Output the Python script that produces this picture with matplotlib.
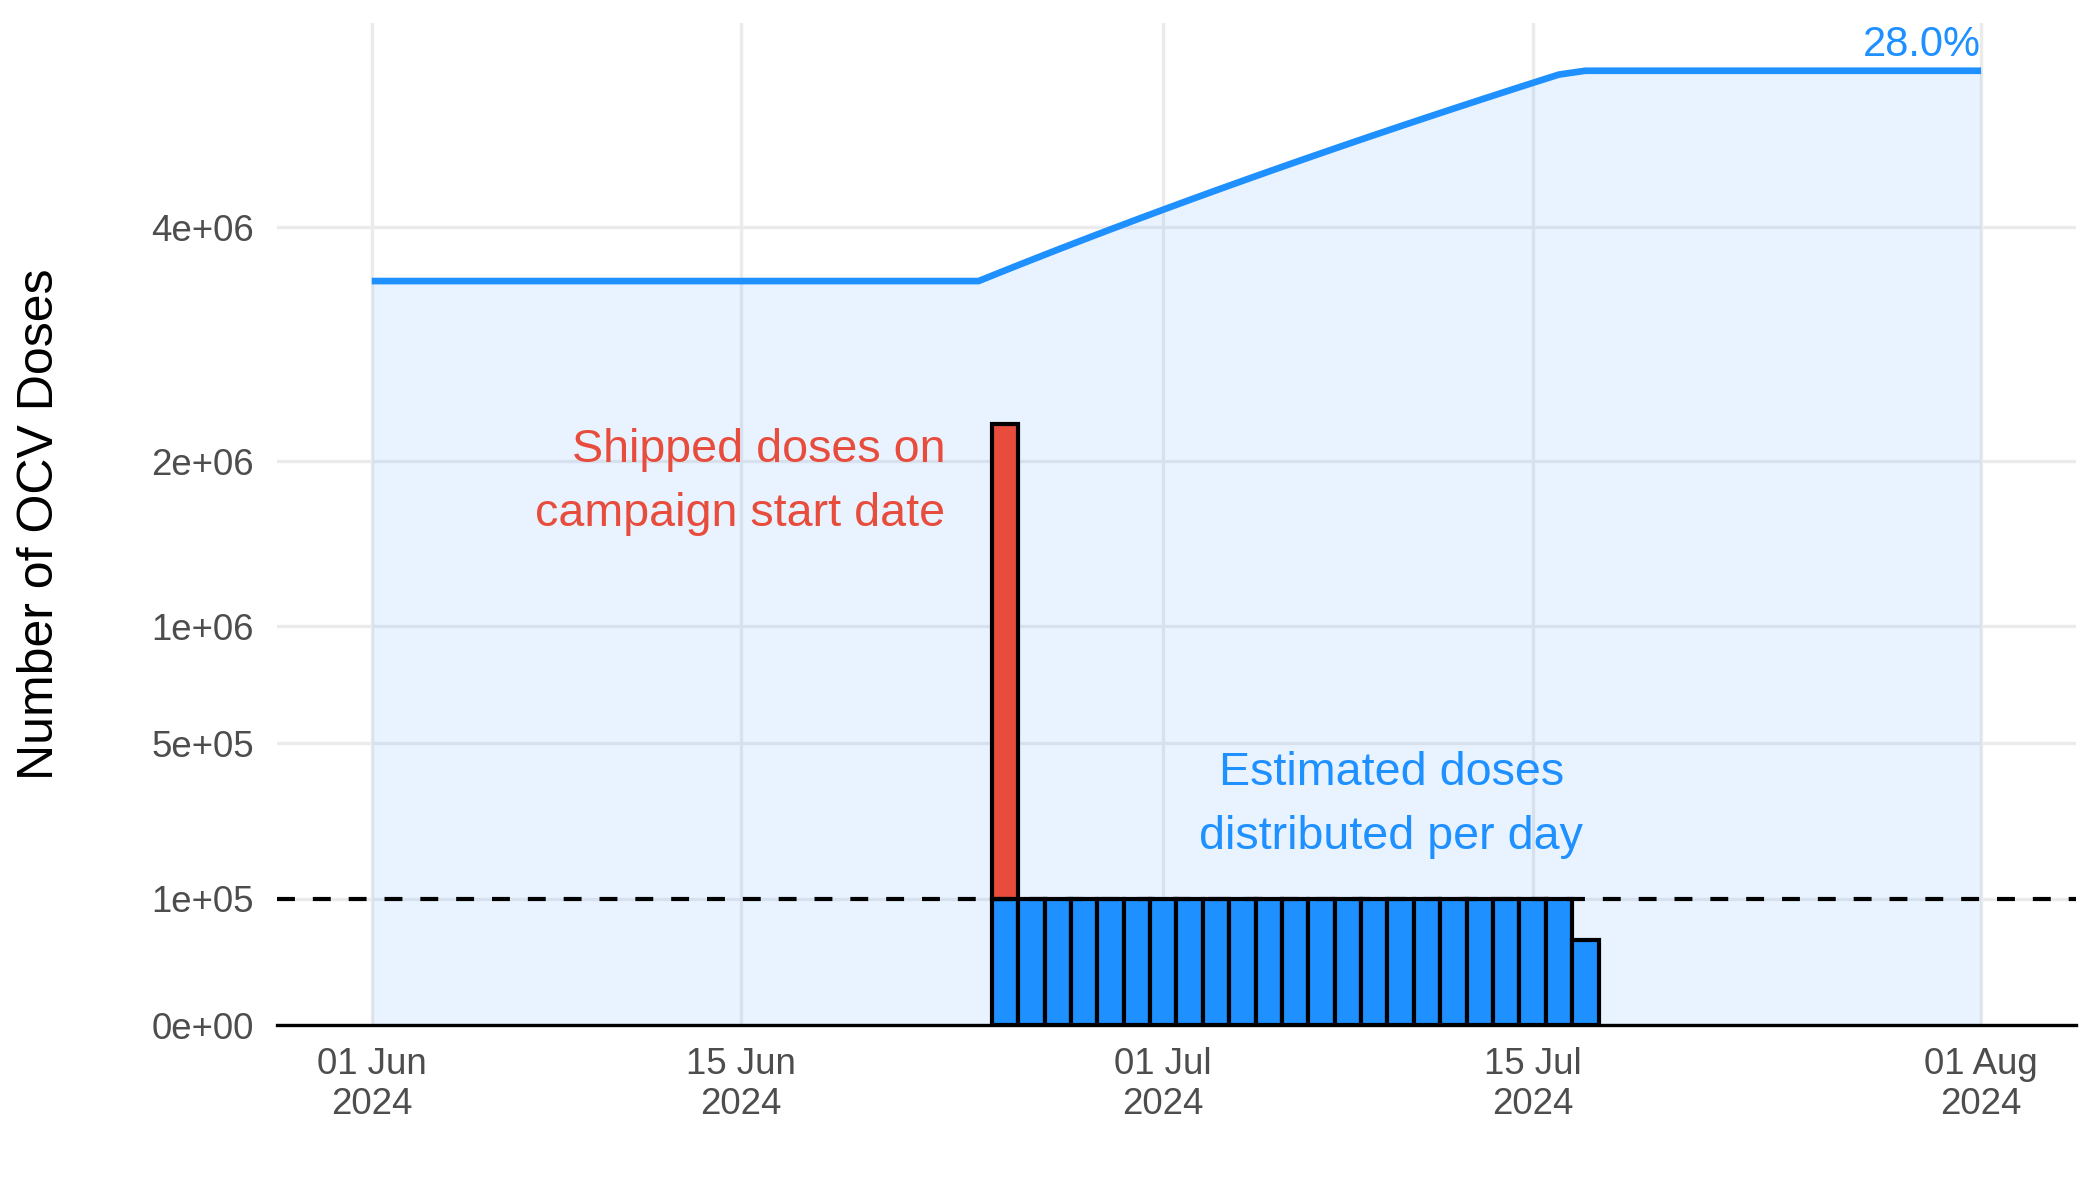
import datetime as dt
import numpy as np
import matplotlib
matplotlib.use("Agg")
import matplotlib.pyplot as plt
import matplotlib.dates as mdates

plt.rcParams['font.family'] = ['Liberation Sans', 'DejaVu Sans']

# data
start_date = dt.date(2024, 6, 1)
end_date = dt.date(2024, 8, 1)
start_level = 3.48e6          # cumulative doses before the campaign

bar_dates = [dt.date(2024, 6, 25) + dt.timedelta(days=i) for i in range(23)]
bar_doses = [1e5, 1e5, 1e5, 1e5, 1e5, 1e5, 1e5, 1e5, 1e5, 1e5, 1e5,
             1e5, 1e5, 1e5, 1e5, 1e5, 1e5, 1e5, 1e5, 1e5, 1e5, 1e5, 4.55e4]

ship_date = dt.date(2024, 6, 25)
ship_doses = 2.17e6

coverage_label = "28.0%"
threshold = 1e5

y_ticks = [0, 1e5, 5e5, 1e6, 2e6, 4e6]
y_labels = ['0e+00', '1e+05', '5e+05', '1e+06', '2e+06', '4e+06']
x_ticks = [dt.date(2024, 6, 1), dt.date(2024, 6, 15), dt.date(2024, 7, 1),
           dt.date(2024, 7, 15), dt.date(2024, 8, 1)]
x_labels = ['01 Jun\n2024', '15 Jun\n2024', '01 Jul\n2024', '15 Jul\n2024', '01 Aug\n2024']

# cumulative line: one point per day
n_days = (end_date - start_date).days + 1
line_dates = [start_date + dt.timedelta(days=i) for i in range(n_days)]
daily = np.zeros(n_days)
for d, v in zip(bar_dates, bar_doses):
    daily[(d - start_date).days] = v
line_vals = start_level + np.cumsum(daily)

blue = '#1E90FF'
red = '#E74C3C'
grey = '#4D4D4D'

fig = plt.figure(figsize=(7, 4), dpi=300)
ax = fig.add_axes([0.1318, 0.1458, 0.9886 - 0.1318, 0.9808 - 0.1458])
ax.set_yscale('function', functions=(lambda y: np.sqrt(np.clip(y, 0, None)), np.square))

ld = mdates.date2num(line_dates)
ax.fill_between(ld, 0, line_vals, color=blue, alpha=0.1, lw=0, zorder=1)
ax.plot(ld, line_vals, color=blue, lw=1.6, solid_capstyle='butt', zorder=2)

ax.bar(mdates.date2num(bar_dates), bar_doses, width=1.0, color=blue,
       edgecolor='black', linewidth=1.0, zorder=3)
ax.bar(mdates.date2num([ship_date]), [ship_doses], bottom=[threshold], width=1.0,
       color=red, edgecolor='black', linewidth=1.0, zorder=3)

ax.axhline(threshold, color='black', lw=1.0, ls=(0, (4.3, 4.3)), zorder=4)
ax.axhline(0, color='black', lw=0.8, zorder=5, clip_on=False)

x0 = mdates.date2num(start_date)
ax.set_xlim(x0 - 3.6, x0 + 64.6)
top = (1.05 * np.sqrt(line_vals.max())) ** 2
ax.set_ylim(0, top)

ax.set_yticks(y_ticks)
ax.set_yticklabels(y_labels)
ax.set_xticks(mdates.date2num(x_ticks))
ax.set_xticklabels(x_labels, linespacing=1.2)
ax.minorticks_off()
ax.tick_params(axis='both', length=0, labelsize=8.8, labelcolor=grey)
ax.tick_params(axis='y', pad=5.5)
ax.tick_params(axis='x', pad=5.2)

ax.grid(True, color='#EBEBEB', lw=0.8, zorder=0)
ax.set_axisbelow(True)
for s in ax.spines.values():
    s.set_visible(False)

fig.text(40 / 2100, 0.563, 'Number of OCV Doses', rotation=90,
         ha='center', va='center', fontsize=12, color='black')

ax.text(x0 + 21.75, 1.855e6, 'Shipped doses on\ncampaign start date', color=red,
        fontsize=11.2, ha='right', va='center', linespacing=1.6, zorder=6)
ax.text(x0 + 38.64, 3.05e5, 'Estimated doses\ndistributed per day', color=blue,
        fontsize=11.2, ha='center', va='center', linespacing=1.6, zorder=6)
ax.text(mdates.date2num(end_date), 5.91e6, coverage_label, color=blue,
        fontsize=10, ha='right', va='baseline', zorder=6)

fig.savefig('out.png', dpi=300)
